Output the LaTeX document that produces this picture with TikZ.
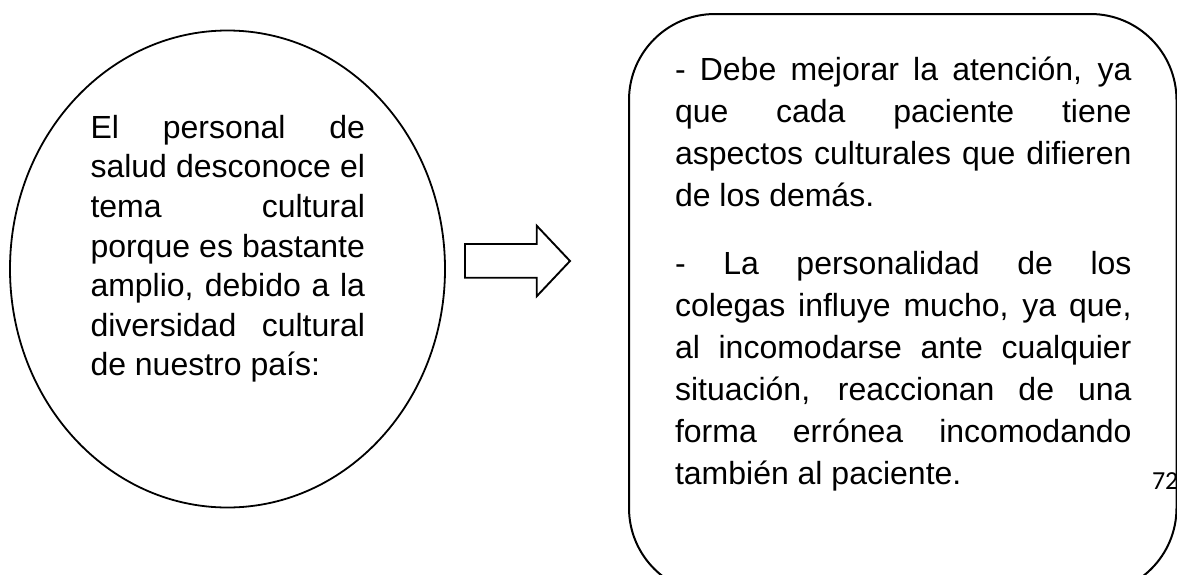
\documentclass[tikz,border=0pt]{standalone}
\usepackage{fontspec}
\setmainfont{Liberation Sans}
\newfontfamily\pagefont{Carlito}
\usetikzlibrary{shapes.geometric}
\tikzset{
  outline/.style={draw=black, line width=1.8pt, fill=none},
  bodytext/.style={anchor=base west, inner sep=0pt, outer sep=0pt},
}
\begin{document}
\begin{tikzpicture}[x=1pt,y=-1pt]
\useasboundingbox (0,0) rectangle (1177,574);
\fill[white] (0,0) rectangle (1177,574);
\begin{scope}
\clip (0,0) rectangle (1177,574);
% left ellipse
\node[outline, ellipse, inner sep=0pt, minimum width=435pt, minimum height=477pt] (circ) at (227.5,269) {};
% right rounded box
\node[outline, line width=2pt, rectangle, rounded corners=86pt, inner sep=0pt, anchor=north west,
      minimum width=547.5pt, minimum height=580pt] (box) at (628,13) {};
\end{scope}
% block arrow
\coordinate (a1) at (465,244);
\coordinate (a2) at (536.7,244);
\coordinate (a3) at (536.7,225.7);
\coordinate (tip) at (570,261);
\coordinate (a5) at (536.7,296.3);
\coordinate (a6) at (536.7,277.7);
\coordinate (a7) at (465,277.7);
\draw[line width=1.9pt, line join=miter] (a1) -- (a2) -- (a3) -- (tip) -- (a5) -- (a6) -- (a7) -- cycle;
% left text
\node[bodytext] (lefttext) at (90.5,138.3) {\parbox[t]{274.5pt}{\fontsize{32}{39.6}\selectfont\tolerance=10000\hbadness=10000
El personal de\linebreak salud desconoce el\linebreak tema cultural\linebreak porque es bastante\linebreak amplio, debido a la\linebreak diversidad cultural\linebreak de nuestro país:}};
% right text
\node[bodytext] (righttext) at (675,80.5) {\parbox[t]{456.5pt}{\fontsize{32}{42}\selectfont\tolerance=10000\hbadness=10000
- Debe mejorar la atención, ya\linebreak que cada paciente tiene\linebreak aspectos culturales que difieren\linebreak de los demás.\par\vspace{26pt}%
- La personalidad de los\linebreak colegas influye mucho, ya que,\linebreak al incomodarse ante cualquier\linebreak situación, reaccionan de una\linebreak forma errónea incomodando\linebreak también al paciente.}};
% page number
\node[bodytext, font=\pagefont\fontsize{26}{30}\selectfont] (pnum) at (1152,489) {72};
\end{tikzpicture}
\end{document}
